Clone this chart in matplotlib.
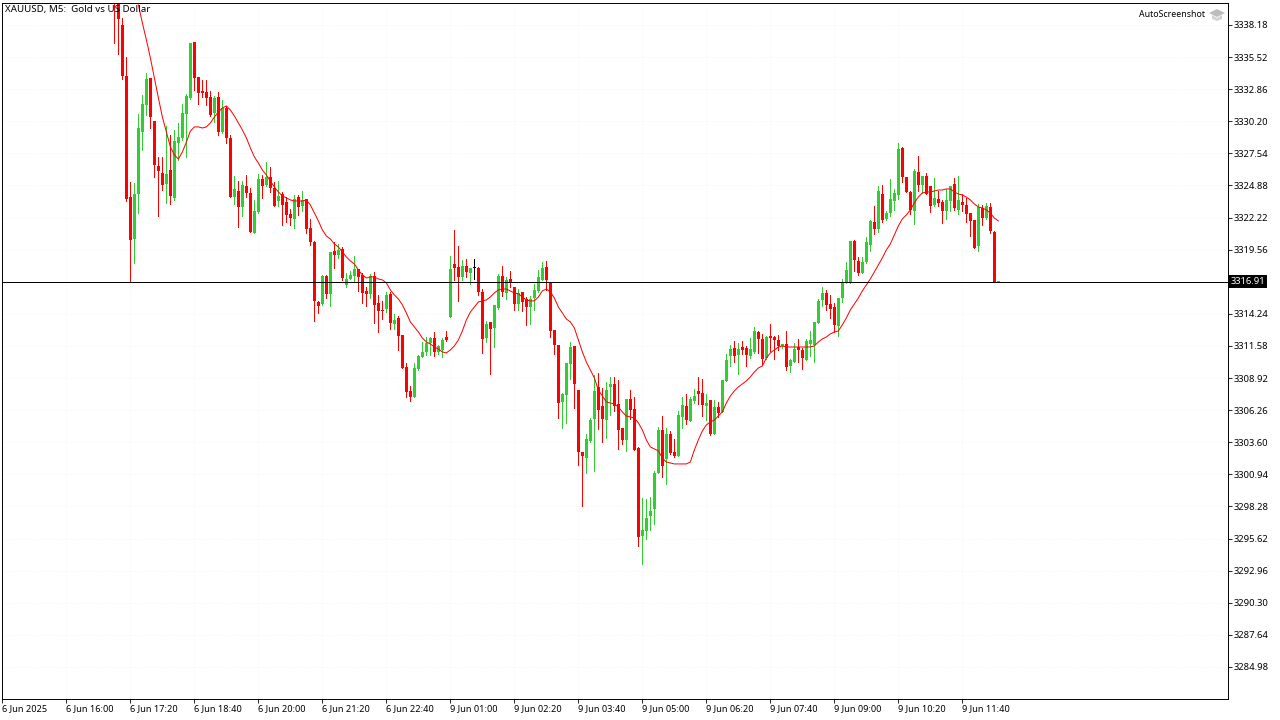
import matplotlib

matplotlib.use("Agg")
import numpy as np
import matplotlib.pyplot as plt
from matplotlib.patches import Polygon

# XAUUSD M5 candles, one row = 8 bars
opens = [
    3341.00,3341.00,3338.18,3333.95,3323.92,3320.44,3324.17,3329.31,
    3331.55,3333.79,3330.22,3326.49,3325.91,3325.00,3326.16,3323.84,
    3328.40,3328.82,3330.80,3332.13,3336.77,3333.87,3332.71,3332.63,
    3332.21,3330.89,3332.21,3329.31,3331.30,3328.82,3323.92,3324.42,
    3323.10,3324.84,3324.26,3320.94,3322.68,3325.42,3324.92,3325.58,
    3324.67,3323.59,3324.17,3323.51,3322.52,3322.10,3323.92,3323.18,
    3323.76,3321.36,3320.20,3315.22,3315.06,3317.38,3315.89,3319.45,
    3319.12,3319.61,3316.63,3317.13,3317.38,3317.96,3317.46,3316.14,
    3315.89,3317.38,3315.14,3314.56,3314.64,3315.89,3313.40,3313.90,
    3312.49,3309.84,3307.85,3307.35,3309.67,3310.67,3311.08,3311.83,
    3312.24,3311.08,3311.25,3312.32,3313.98,3318.37,3318.12,3317.30,
    3318.21,3317.63,3318.04,3318.04,3316.05,3312.24,3313.57,3313.07,
    3314.73,3317.38,3315.97,3317.13,3316.47,3315.06,3316.05,3315.47,
    3314.81,3315.55,3316.14,3317.05,3318.12,3316.88,3312.90,3311.66,
    3306.94,3307.52,3310.09,3311.58,3307.93,3302.79,3302.29,3303.70,
    3305.53,3308.18,3306.60,3305.44,3308.18,3308.43,3306.77,3304.78,
    3303.79,3307.18,3306.36,3303.12,3295.83,3296.25,3297.49,3298.07,
    3301.05,3304.62,3302.21,3304.29,3302.79,3302.46,3305.69,3306.60,
    3305.36,3307.02,3307.85,3307.68,3306.60,3307.10,3304.29,3306.52,
    3306.11,3308.68,3310.75,3311.41,3310.83,3311.49,3311.41,3310.75,
    3311.08,3312.74,3312.16,3310.58,3312.41,3312.32,3312.07,3311.58,
    3311.74,3309.92,3310.25,3311.49,3311.25,3310.42,3311.74,3311.66,
    3313.48,3315.39,3315.97,3315.06,3314.81,3313.23,3315.55,3316.80,
    3316.80,3320.28,3318.62,3317.63,3318.54,3319.95,3321.85,3321.27,
    3324.17,3322.10,3322.60,3323.59,3324.09,3327.99,3325.58,3324.34,
    3322.76,3325.99,3324.92,3325.66,3324.84,3323.26,3323.76,3323.51,
    3322.76,3323.59,3325.00,3322.85,3323.51,3323.26,3322.60,3322.02,
    3319.86,3323.01,3322.18,3323.10,3321.02,3316.91,
]
highs = [
    3341.50,3341.50,3338.76,3335.53,3325.17,3325.08,3330.80,3332.38,
    3334.20,3333.79,3330.22,3327.24,3327.24,3329.81,3329.07,3329.48,
    3330.06,3331.63,3332.46,3336.69,3336.77,3333.87,3333.62,3333.62,
    3332.71,3332.29,3332.63,3331.96,3331.47,3329.07,3325.66,3325.25,
    3325.25,3325.75,3324.67,3323.68,3325.83,3325.75,3326.82,3326.41,
    3325.17,3325.25,3324.34,3323.92,3322.93,3324.09,3324.09,3324.42,
    3323.76,3322.10,3320.28,3315.31,3317.46,3317.46,3319.37,3320.20,
    3320.03,3319.78,3317.63,3317.79,3319.04,3317.96,3317.63,3316.47,
    3317.54,3317.71,3315.80,3315.31,3316.05,3316.05,3314.23,3314.06,
    3312.49,3310.17,3308.26,3310.17,3310.83,3311.91,3312.32,3312.32,
    3312.74,3311.66,3312.24,3312.82,3319.04,3321.19,3319.86,3318.70,
    3318.79,3318.04,3318.79,3318.12,3316.30,3313.65,3313.57,3314.98,
    3317.54,3318.21,3317.30,3317.79,3316.47,3316.30,3316.05,3315.64,
    3315.72,3316.71,3317.87,3318.54,3318.62,3316.88,3312.90,3311.66,
    3307.68,3310.17,3311.91,3311.58,3307.93,3302.79,3304.29,3305.61,
    3309.17,3309.34,3308.10,3308.59,3309.01,3309.01,3308.76,3304.78,
    3307.18,3307.93,3307.35,3303.21,3298.98,3298.90,3299.07,3301.22,
    3304.87,3305.77,3304.78,3304.53,3303.87,3306.19,3307.35,3307.60,
    3307.35,3308.01,3309.01,3308.84,3307.60,3307.10,3307.10,3306.94,
    3308.76,3310.92,3311.66,3311.99,3311.83,3311.99,3311.58,3312.24,
    3313.15,3312.82,3312.57,3312.41,3313.40,3312.41,3312.49,3311.74,
    3312.82,3310.50,3311.83,3312.16,3311.41,3312.16,3312.82,3313.57,
    3315.47,3316.47,3316.22,3315.80,3315.14,3315.55,3317.13,3318.54,
    3320.28,3320.36,3318.95,3318.95,3320.61,3322.02,3323.18,3324.84,
    3324.92,3322.76,3325.42,3324.59,3328.40,3328.07,3325.58,3324.42,
    3326.25,3327.32,3325.66,3325.91,3324.84,3325.50,3324.42,3323.68,
    3324.59,3324.84,3325.50,3325.66,3324.17,3323.84,3322.60,3322.02,
    3323.35,3323.26,3323.43,3323.43,3321.11,3316.93,
]
lows = [
    3336.69,3335.78,3333.70,3323.59,3316.91,3318.45,3322.60,3327.82,
    3330.72,3329.64,3325.58,3322.35,3324.50,3323.43,3323.35,3323.68,
    3326.99,3328.65,3327.24,3332.05,3332.79,3331.63,3332.21,3331.55,
    3330.64,3330.14,3329.07,3329.23,3328.40,3323.92,3323.35,3321.44,
    3322.35,3323.92,3321.02,3320.94,3322.60,3323.84,3324.84,3324.34,
    3323.18,3323.18,3321.61,3321.85,3321.61,3321.36,3322.43,3322.76,
    3320.94,3319.95,3313.65,3314.31,3314.98,3315.55,3314.89,3318.04,
    3318.87,3317.05,3316.47,3317.13,3316.96,3316.14,3315.14,3314.89,
    3315.55,3313.48,3312.74,3313.81,3314.39,3312.99,3312.99,3311.25,
    3309.75,3307.35,3307.02,3307.35,3309.59,3310.67,3310.83,3310.83,
    3310.75,3310.92,3310.67,3311.99,3313.98,3317.05,3315.31,3317.05,
    3317.30,3316.71,3317.13,3315.80,3311.00,3311.91,3309.26,3311.49,
    3314.64,3315.72,3315.47,3316.47,3314.56,3314.56,3314.48,3313.32,
    3313.40,3314.56,3316.05,3317.05,3316.22,3312.32,3310.92,3305.61,
    3304.78,3305.20,3308.84,3306.44,3301.71,3298.32,3301.05,3303.62,
    3301.22,3304.70,3303.62,3303.95,3305.86,3306.19,3303.04,3303.46,
    3302.88,3305.53,3302.96,3295.00,3293.51,3295.58,3296.33,3296.83,
    3301.05,3300.72,3300.14,3302.63,3302.38,3302.46,3304.78,3305.11,
    3305.36,3306.85,3306.77,3305.77,3305.44,3304.20,3304.29,3305.69,
    3306.11,3308.68,3309.92,3310.25,3309.26,3310.92,3309.92,3310.58,
    3311.00,3311.00,3310.00,3310.50,3311.16,3310.50,3311.25,3311.41,
    3309.59,3309.42,3310.25,3310.25,3309.67,3310.42,3310.75,3310.25,
    3313.48,3314.89,3314.56,3313.90,3312.74,3312.41,3315.22,3316.80,
    3316.80,3317.79,3317.46,3317.63,3318.45,3319.45,3320.86,3321.02,
    3321.85,3322.02,3322.35,3322.85,3323.76,3325.17,3324.34,3322.52,
    3321.69,3324.42,3324.26,3324.17,3322.68,3323.18,3323.18,3321.77,
    3322.10,3322.76,3322.85,3322.52,3322.76,3321.85,3320.69,3319.70,
    3319.45,3321.61,3322.10,3320.94,3316.91,3316.91,
]
closes = [
    3340.20,3338.67,3333.95,3323.76,3320.36,3324.17,3329.64,3331.63,
    3333.70,3330.55,3326.58,3326.08,3324.92,3325.83,3324.01,3328.57,
    3328.90,3330.89,3332.29,3336.69,3333.79,3332.54,3332.54,3332.13,
    3330.72,3332.13,3329.31,3331.30,3328.82,3323.92,3324.59,3323.10,
    3324.92,3324.26,3321.02,3322.76,3325.42,3324.84,3325.58,3324.67,
    3323.18,3324.01,3323.26,3322.43,3322.18,3323.76,3323.10,3323.68,
    3321.27,3320.20,3315.31,3314.89,3317.38,3315.89,3319.37,3319.12,
    3319.53,3317.21,3317.13,3317.46,3317.96,3317.30,3315.97,3315.89,
    3317.38,3314.98,3314.48,3314.48,3315.80,3313.48,3313.73,3312.41,
    3309.75,3307.76,3307.35,3309.75,3310.75,3311.08,3311.83,3312.24,
    3311.08,3311.58,3312.07,3312.07,3317.96,3318.04,3317.30,3318.21,
    3317.71,3318.04,3318.04,3316.05,3312.16,3313.40,3312.99,3314.98,
    3317.38,3316.05,3317.05,3316.80,3315.06,3315.97,3315.22,3314.81,
    3315.47,3316.22,3317.30,3318.04,3317.05,3312.82,3311.66,3306.85,
    3307.60,3310.17,3311.49,3308.43,3302.79,3302.46,3303.87,3305.44,
    3307.85,3306.27,3305.53,3307.93,3308.43,3306.60,3304.62,3303.79,
    3307.18,3306.27,3302.96,3295.75,3296.33,3297.33,3297.90,3301.05,
    3304.62,3301.63,3304.29,3302.71,3302.46,3305.86,3306.69,3305.44,
    3307.18,3307.43,3307.60,3306.69,3306.85,3304.29,3306.52,3306.02,
    3308.76,3310.42,3311.33,3310.75,3311.33,3311.25,3310.83,3311.33,
    3312.82,3312.16,3310.50,3312.32,3312.24,3312.07,3311.58,3311.74,
    3309.84,3310.42,3311.33,3311.25,3310.58,3311.99,3312.07,3313.57,
    3315.31,3315.97,3314.98,3314.64,3313.32,3315.55,3316.88,3317.87,
    3320.28,3318.70,3317.63,3318.54,3320.20,3321.94,3321.27,3324.42,
    3322.02,3322.60,3323.76,3324.26,3327.90,3325.58,3324.34,3322.85,
    3326.08,3324.92,3325.66,3324.17,3323.18,3323.84,3323.43,3322.76,
    3323.68,3324.84,3323.01,3323.68,3323.26,3322.52,3321.94,3319.70,
    3323.10,3322.18,3323.18,3321.11,3316.91,3316.92,
]

# moving average, ends on the last bar
ma_values = [
    3339.84,3338.34,3336.94,3335.44,3333.79,3332.13,3330.55,3329.31,
    3328.07,3327.41,3327.07,3327.65,3328.48,3329.39,3329.73,3329.73,
    3329.64,3329.73,3330.06,3330.55,3330.97,3331.30,3331.47,3331.13,
    3330.64,3330.06,3329.48,3328.82,3327.99,3327.24,3326.74,3326.16,
    3325.75,3325.25,3324.75,3324.34,3324.01,3323.84,3323.68,3323.59,
    3323.59,3323.59,3323.68,3323.26,3322.60,3321.94,3321.19,3320.69,
    3320.44,3320.03,3319.78,3319.37,3318.95,3318.62,3318.37,3317.87,
    3317.46,3317.21,3317.30,3317.30,3317.13,3317.05,3316.80,3316.22,
    3315.80,3315.47,3314.98,3314.31,3313.57,3313.15,3312.74,3312.24,
    3311.91,3311.74,3311.49,3311.33,3311.08,3311.00,3311.25,3311.58,
    3312.07,3312.82,3313.73,3314.39,3314.81,3315.22,3315.31,3315.39,
    3315.64,3315.97,3316.22,3316.30,3316.30,3316.14,3315.97,3315.89,
    3315.64,3315.39,3315.31,3315.31,3315.64,3316.14,3316.30,3316.05,
    3315.55,3314.81,3314.31,3313.81,3313.57,3313.07,3312.07,3311.08,
    3310.25,3309.59,3308.93,3307.93,3307.43,3306.94,3306.85,3306.77,
    3306.52,3306.11,3305.77,3305.69,3305.61,3305.20,3304.62,3303.79,
    3303.21,3303.04,3302.88,3302.29,3301.96,3301.88,3301.80,3301.80,
    3301.80,3301.80,3301.96,3302.96,3303.79,3304.53,3305.03,3305.28,
    3305.44,3305.77,3306.11,3306.85,3307.43,3307.85,3308.18,3308.43,
    3308.68,3309.01,3309.42,3309.75,3309.92,3310.58,3311.00,3311.25,
    3311.49,3311.58,3311.49,3311.49,3311.49,3311.49,3311.49,3311.49,
    3311.49,3311.58,3311.91,3312.16,3312.32,3312.57,3312.74,3312.82,
    3313.32,3313.90,3314.56,3315.06,3315.55,3316.14,3316.63,3317.13,
    3317.71,3318.29,3318.87,3319.53,3320.03,3320.77,3321.52,3322.10,
    3322.43,3322.85,3323.43,3323.92,3324.26,3324.34,3324.34,3324.42,
    3324.50,3324.50,3324.59,3324.59,3324.34,3324.17,3324.09,3323.92,
    3323.68,3323.35,3323.10,3323.01,3322.85,3322.60,3322.18,3321.94,
]

last_price = 3316.91
price_ticks = [
    3338.18, 3335.52, 3332.86, 3330.20, 3327.54, 3324.88, 3322.22, 3319.56,
    3314.24, 3311.58, 3308.92, 3306.26, 3303.60, 3300.94, 3298.28, 3295.62,
    3292.96, 3290.30, 3287.64, 3284.98,
]
time_labels = [
    "6 Jun 2025", "6 Jun 16:00", "6 Jun 17:20", "6 Jun 18:40", "6 Jun 20:00",
    "6 Jun 21:20", "6 Jun 22:40", "9 Jun 01:00", "9 Jun 02:20", "9 Jun 03:40",
    "9 Jun 05:00", "9 Jun 06:20", "9 Jun 07:40", "9 Jun 09:00", "9 Jun 10:20",
    "9 Jun 11:40",
]
first_bar = 28
bars_per_tick = 16

GREEN = "#32cd32"
RED = "#ff0000"

plt.rcParams["font.family"] = ["Noto Sans", "DejaVu Sans"]
plt.rcParams["font.size"] = 6.6

fig = plt.figure(figsize=(12.8, 7.2), dpi=100, facecolor="white")
ax = fig.add_axes([2.0 / 1280, 21.0 / 720, 1225.5 / 1280, 696.5 / 720])

o = np.array(opens)
h = np.array(highs)
l = np.array(lows)
c = np.array(closes)
x = first_bar + np.arange(len(o))

colors = np.where(c > o, GREEN, np.where(c < o, RED, "#000000"))

ax.vlines(x, l, h, colors=colors, linewidth=0.6, antialiased=False, zorder=2)
ax.bar(
    x,
    np.maximum(np.abs(c - o), 0.06),
    bottom=np.minimum(o, c),
    width=0.86,
    color=colors,
    linewidth=0,
    antialiased=False,
    zorder=2,
)

ma_x = x[-len(ma_values):]
ax.plot(ma_x, ma_values, color=RED, linewidth=0.72, antialiased=True, zorder=3)
ax.axhline(last_price, color="black", linewidth=0.5, antialiased=False, zorder=4)

ax.set_xlim(-0.1, 306.3)
ax.set_ylim(3282.32, 3340.04)

ax.yaxis.tick_right()
ax.set_yticks(price_ticks)
ax.set_yticklabels([f"{p:.2f}" for p in price_ticks], fontsize=6.8)
ax.set_xticks(np.arange(len(time_labels)) * bars_per_tick)
ax.set_xticklabels(time_labels, ha="left")
ax.tick_params(axis="both", length=3.2, width=0.6, color="black", pad=1.5)
ax.tick_params(axis="x", pad=0.5)
ax.grid(True, color="#f3f3f3", linestyle=":", linewidth=0.6)
ax.set_axisbelow(True)
for spine in ax.spines.values():
    spine.set_linewidth(0.7)

# current price tag on the scale
ax.text(
    1.0022,
    last_price,
    f"{last_price:.2f}",
    transform=ax.get_yaxis_transform(),
    color="white",
    fontsize=6.8,
    va="center",
    ha="left",
    bbox=dict(facecolor="black", edgecolor="none", pad=1.6),
    zorder=6,
    clip_on=False,
)

ax.text(0.0026, 0.9895, "XAUUSD, M5:  Gold vs US Dollar", transform=ax.transAxes, fontsize=7.0, va="center", ha="left", zorder=6)
ax.text(0.9815, 0.9825, "AutoScreenshot", transform=ax.transAxes, fontsize=6.3, va="center", ha="right", zorder=6)

# little grey graduation cap next to AutoScreenshot
cap_top = [(1209, 13), (1217, 9), (1225, 13), (1217, 17)]
cap_base = [(1212, 15), (1217, 18), (1222, 15), (1222, 19), (1217, 21), (1212, 19)]
for pts, col in [(cap_base, "#d4d4d4"), (cap_top, "#bdbdbd")]:
    fig.add_artist(
        Polygon(
            [(px / 1280, 1 - py / 720) for px, py in pts],
            closed=True,
            transform=fig.transFigure,
            facecolor=col,
            edgecolor="none",
        )
    )

plt.savefig("out.png", dpi=100)
